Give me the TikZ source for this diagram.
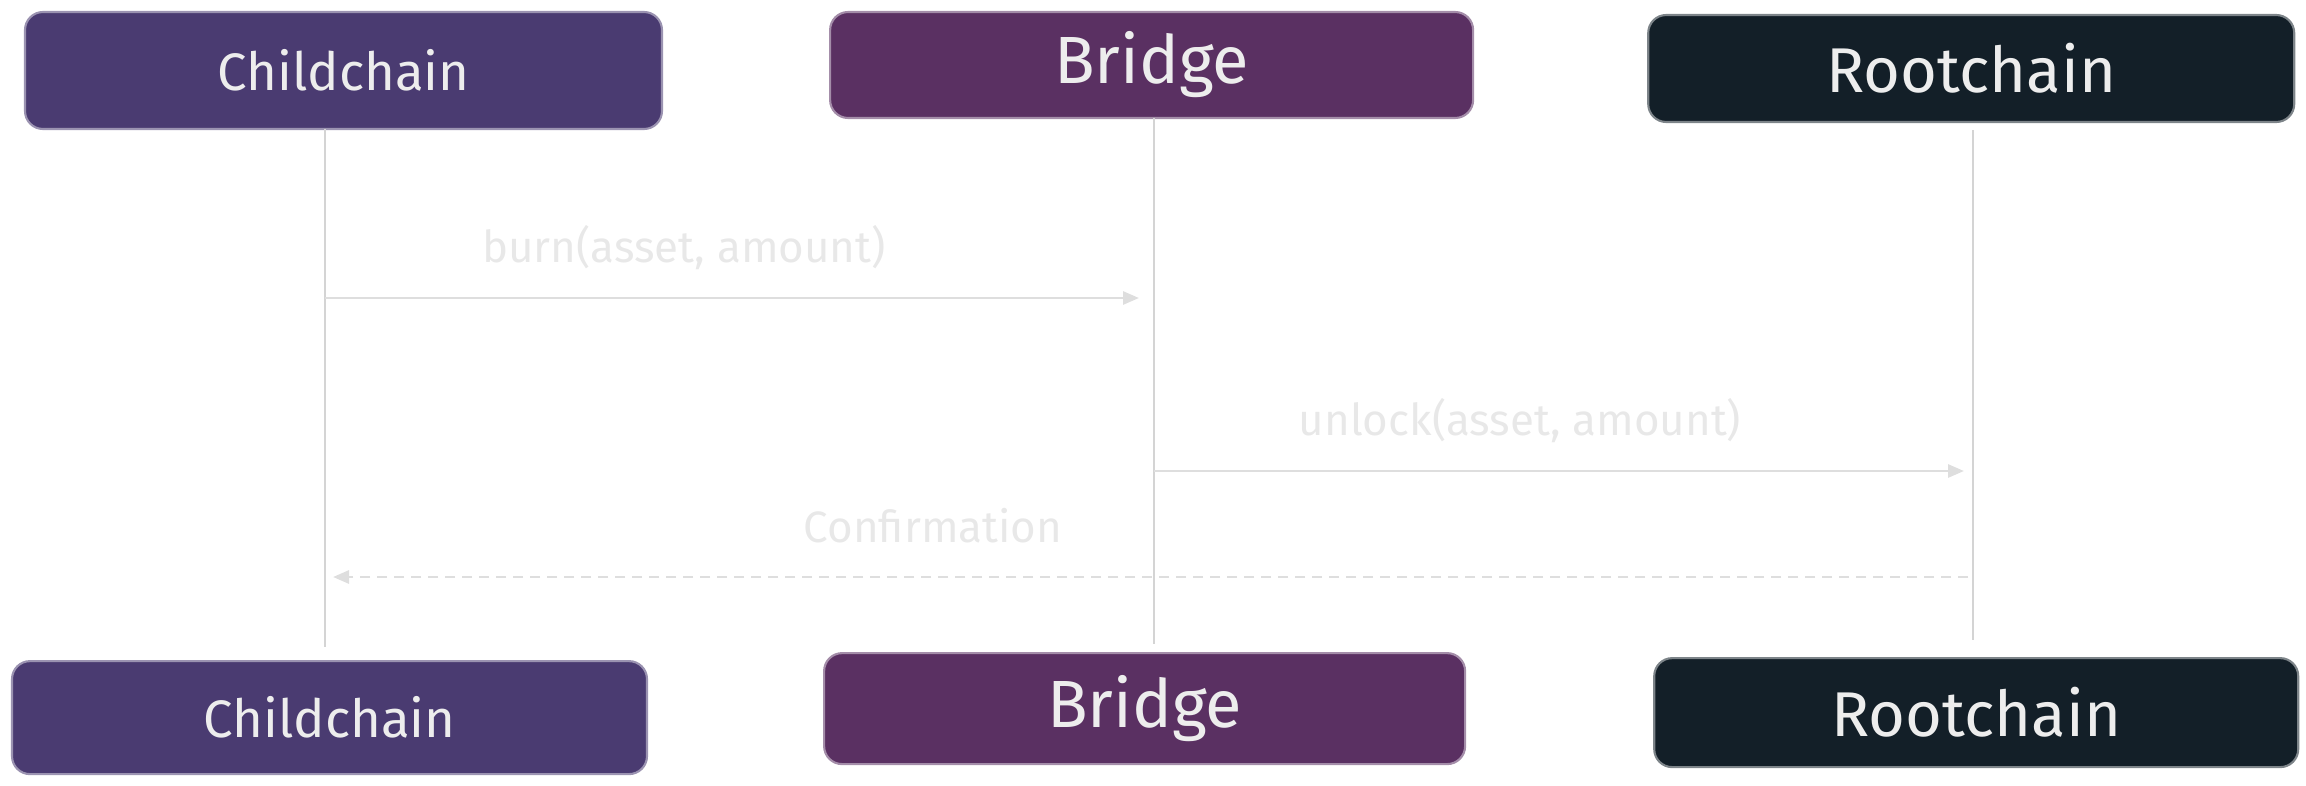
\documentclass[tikz,border=0pt]{standalone}
\usepackage{fontspec}
\setmainfont{Fira Sans}
\usetikzlibrary{positioning}
\usetikzlibrary{arrows.meta}
\definecolor{Child}{HTML}{4A3B71}
\definecolor{Bridge}{HTML}{5A3062}
\definecolor{Root}{HTML}{131F28}
\colorlet{Life}{black!17}
\colorlet{Msg}{black!13}
\colorlet{Note}{black!9}

\begin{document}
\begin{tikzpicture}[
    actor/.style={rectangle, rounded corners=0.18cm, fill=#1, draw=#1!55!white, line width=0.6pt, text=black!7, inner sep=0pt},
    life/.style={draw=Life, line width=0.45pt},
    msg/.style={draw=Msg, line width=0.8pt, -{Triangle[length=1.6mm, width=1.3mm]}},
    note/.style={text=Note, font=\fontsize{12.5}{14}\selectfont, anchor=base, inner sep=0pt}
]
        \useasboundingbox (0,0) rectangle (23.06,-7.85);

        % actors on top
        \node[actor=Child, minimum width=6.37cm, minimum height=1.17cm, font=\fontsize{15}{17}\selectfont] (C1) at (3.435,-0.705) {Childchain};
        \node[actor=Bridge, minimum width=6.43cm, minimum height=1.06cm, font=\fontsize{19}{21}\selectfont, right=1.66cm of C1, yshift=0.055cm] (B1) {Bridge};
        \node[actor=Root, minimum width=6.46cm, minimum height=1.07cm, font=\fontsize{18}{20}\selectfont, right=1.73cm of B1, yshift=-0.035cm] (R1) {Rootchain};

        % actors at the bottom
        \node[actor=Child, minimum width=6.35cm, minimum height=1.13cm, font=\fontsize{15}{17}\selectfont, below=5.3cm of C1, xshift=-0.14cm] (C2) {Childchain};
        \node[actor=Bridge, minimum width=6.41cm, minimum height=1.11cm, font=\fontsize{19}{21}\selectfont, below=5.33cm of B1, xshift=-0.07cm] (B2) {Bridge};
        \node[actor=Root, minimum width=6.44cm, minimum height=1.09cm, font=\fontsize{18}{20}\selectfont, below=5.34cm of R1, xshift=0.05cm] (R2) {Rootchain};

        % lifelines
        \coordinate (c1) at (3.25,-1.29);
        \coordinate (c2) at (3.25,-6.47);
        \coordinate (b1) at (11.54,-1.18);
        \coordinate (b2) at (11.54,-6.44);
        \coordinate (r1) at (19.73,-1.30);
        \coordinate (r2) at (19.73,-6.40);
        \draw[life] (c1) -- (c2);
        \draw[life] (b1) -- (b2);
        \draw[life] (r1) -- (r2);

        % messages
        \coordinate (burnA) at (3.25,-2.98);
        \coordinate (burnB) at (11.39,-2.98);
        \coordinate (unlockA) at (11.54,-4.71);
        \coordinate (unlockB) at (19.64,-4.71);
        \coordinate (confA) at (19.68,-5.77);
        \coordinate (confB) at (3.33,-5.77);
        \draw[msg] (burnA) -- (burnB);
        \draw[msg] (unlockA) -- (unlockB);
        \draw[msg, dash pattern=on 1mm off 0.7mm] (confA) -- (confB);

        \node[note] (burn) at (6.84,-2.62) {burn(asset, amount)};
        \node[note] (unlock) at (15.20,-4.35) {unlock(asset, amount)};
        \node[note] (conf) at (9.33,-5.42) {Confirmation};
\end{tikzpicture}
\end{document}
